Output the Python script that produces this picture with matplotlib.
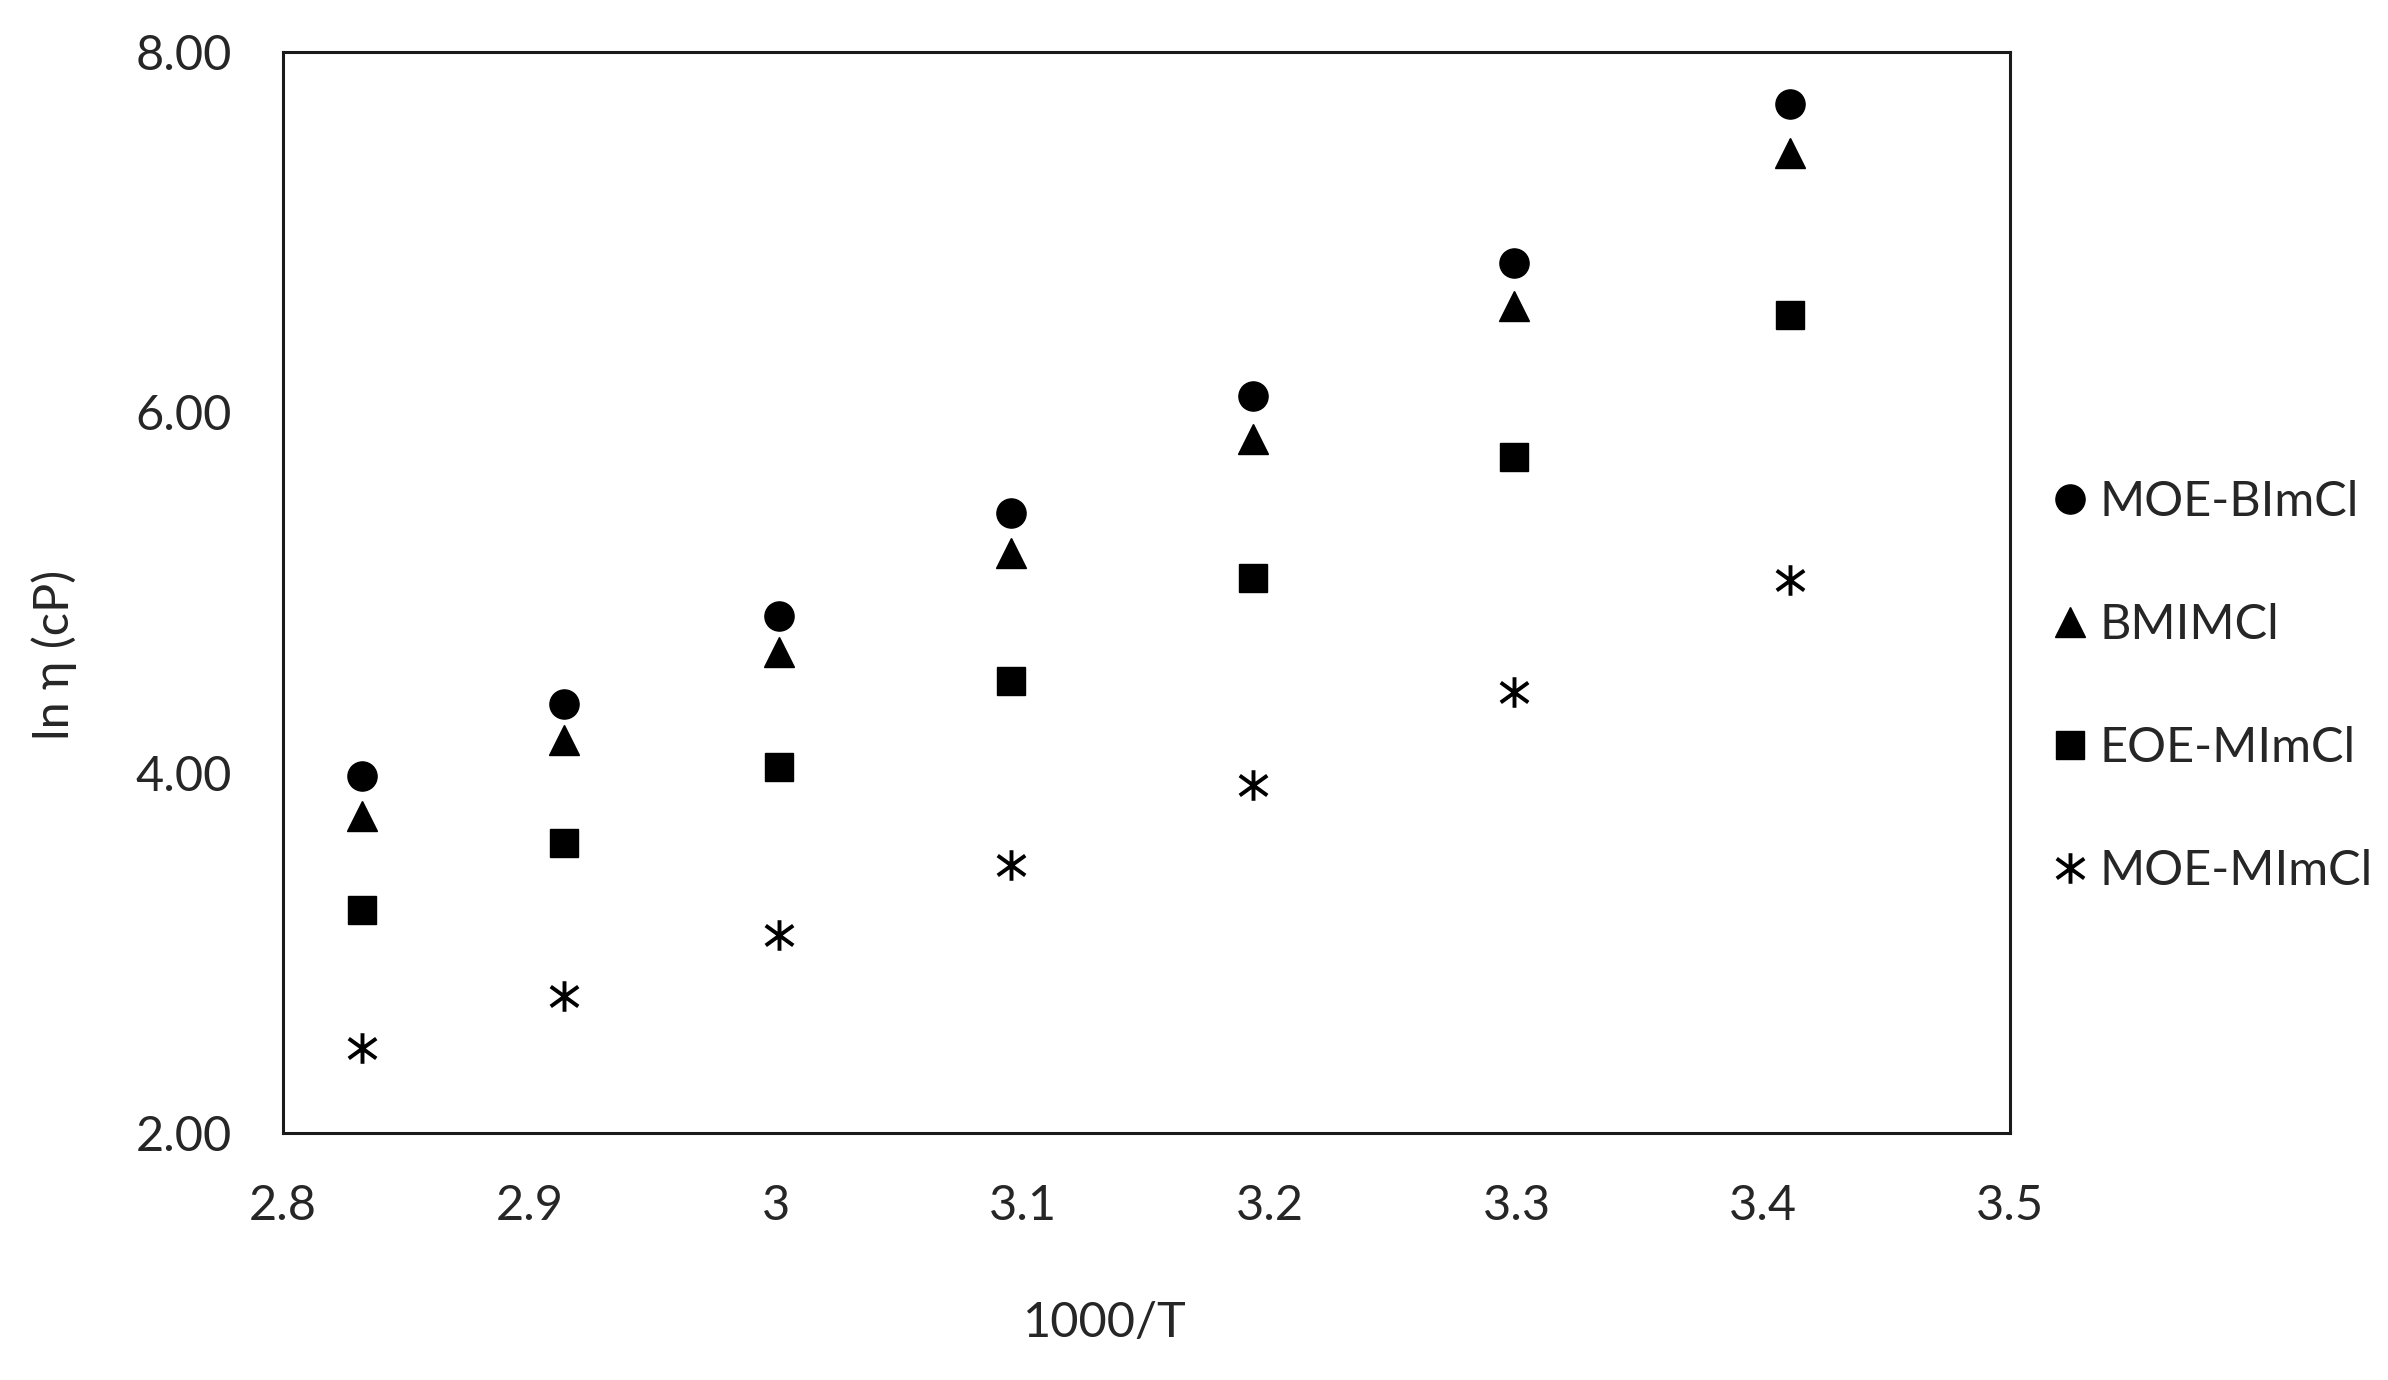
import matplotlib
matplotlib.use("Agg")
import matplotlib.pyplot as plt
from matplotlib.path import Path

# 1000/T values (K^-1 x 1000)
inv_t = [2.832, 2.914, 3.001, 3.095, 3.193, 3.299, 3.411]

moe_bimcl = [3.98, 4.38, 4.87, 5.44, 6.09, 6.83, 7.71]
bmimcl = [3.76, 4.18, 4.67, 5.22, 5.85, 6.59, 7.44]
eoe_mimcl = [3.24, 3.61, 4.03, 4.51, 5.08, 5.75, 6.54]
moe_mimcl = [2.47, 2.76, 3.10, 3.49, 3.93, 4.45, 5.07]

series_names = ["MOE-BImCl", "BMIMCl", "EOE-MImCl", "MOE-MImCl"]

x_ticks = [2.8, 2.9, 3.0, 3.1, 3.2, 3.3, 3.4, 3.5]
x_labels = ["2.8", "2.9", "3", "3.1", "3.2", "3.3", "3.4", "3.5"]
y_ticks = [2, 4, 6, 8]
y_labels = ["2.00", "4.00", "6.00", "8.00"]

txt = "#262626"
plt.rcParams["font.family"] = ["Lato", "DejaVu Sans"]
plt.rcParams["font.size"] = 35

# excel style star: vertical stroke plus an X
star = Path([(0, -1), (0, 1), (-0.9, -0.65), (0.9, 0.65), (-0.9, 0.65), (0.9, -0.65)],
            [Path.MOVETO, Path.LINETO, Path.MOVETO, Path.LINETO, Path.MOVETO, Path.LINETO])

fig = plt.figure(figsize=(23.88, 13.8), dpi=100)
ax = fig.add_axes([0.1185, 0.179, 0.8417 - 0.1185, 0.9623 - 0.179])

ax.plot(inv_t, moe_bimcl, "o", color="black", markersize=21, linestyle="none", label=series_names[0])
ax.plot(inv_t, bmimcl, "^", color="black", markersize=21, linestyle="none", label=series_names[1])
ax.plot(inv_t, eoe_mimcl, "s", color="black", markersize=20, linestyle="none", label=series_names[2])
ax.plot(inv_t, moe_mimcl, marker=star, color="black", markersize=22, markeredgewidth=2.8,
        linestyle="none", label=series_names[3])

ax.set_xlim(2.8, 3.5)
ax.set_ylim(2, 8)
ax.set_xticks(x_ticks)
ax.set_xticklabels(x_labels)
ax.set_yticks(y_ticks)
ax.set_yticklabels(y_labels)
ax.tick_params(length=0, pad=37, colors=txt, labelsize=35)
for sp in ax.spines.values():
    sp.set_linewidth(2.2)
    sp.set_color("#1a1a1a")

ax.set_xlabel("1000/T", color=txt, fontsize=35, labelpad=45)
ax.xaxis.set_label_coords(0.476, -0.155)
ax.set_ylabel("ln η (cP)", color=txt, fontsize=35, labelpad=35)
ax.yaxis.set_label_coords(-0.119, 0.442)

leg = ax.legend(loc="center left", bbox_to_anchor=(1.0096, 0.413), frameon=False,
                handletextpad=0.1, labelspacing=1.63, handlelength=1.0, borderaxespad=0,
                fontsize=35, markerscale=1.0)
for t in leg.get_texts():
    t.set_color(txt)

fig.savefig("out.png", dpi=100)
